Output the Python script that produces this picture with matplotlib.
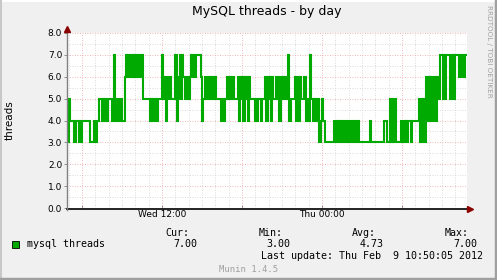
import matplotlib
matplotlib.use("Agg")
import matplotlib.pyplot as plt
import numpy as np
from matplotlib.lines import Line2D
from matplotlib.ticker import FixedLocator

# values, one digit per 5 min sample, oldest first
thread_pieces = [
    "435", "444", "33", "44", "3434", "444444", "333", "4", "33", "44",
    "55454", "5", "44", "555", "44", "74", "55", "44544", "6", "76",
    "7676767676767", "55555", "54545454", "555", "75", "65", "4", "656",
    "5555", "74", "657576", "565656", "76767777", "64", "55", "6565656565",
    "555", "5454", "55", "656566", "555", "646564656465", "555", "454", "55",
    "4", "555", "6465646", "55", "656", "44", "656565", "74", "5555", "64646",
    "555", "64", "454", "7", "5454545", "3", "45", "44", "3", "3333333",
    "43434343", "343434", "33", "43434", "3333333333", "4", "33333333333",
    "444", "33", "535", "3", "53", "3333", "4343434", "434", "44444",
    "535353", "6464646464", "66", "5", "7", "75757", "7", "757575", "77",
    "767676", "77",
]
threads = np.array([int(c) for c in "".join(thread_pieces)])

# hours counted from Wed 00:00
window_start = 4.875
window_end = 34.875
tick_hours = [6, 12, 18, 24, 30]
tick_labels = ["", "Wed 12:00", "", "Thu 00:00", ""]
y_ticks = list(range(9))

stat_names = ["Cur:", "Min:", "Avg:", "Max:"]
stat_values = ["7.00", "3.00", "4.73", "7.00"]
series_name = "mysql threads"
last_update = "Last update: Thu Feb  9 10:50:05 2012"

W, H = 497, 280
green = "#00AA00"
mono = "DejaVu Sans Mono"

fig = plt.figure(figsize=(W / 100, H / 100), dpi=100)
fig.patch.set_facecolor("#F0F0F0")


def px(x, y):
    return x / W, 1 - y / H


# plot area: x 67..467, y 33 (8.0) .. 208 (0.0)
ax = fig.add_axes([67 / W, 1 - 208 / H, 400 / W, 175 / H])
ax.set_facecolor("white")
ax.set_xlim(window_start, window_end)
ax.set_ylim(0, 8)

n = len(threads)
t = window_start + (np.arange(n) + 1) * (window_end - window_start) / n
ax.plot(t, threads, drawstyle="steps-pre", color=green, linewidth=1.5,
        solid_joinstyle="miter", zorder=3)

# grid, rrdtool style
for h in np.arange(5, 35):
    if h % 6:
        ax.axvline(h, color="#CFCFCF", lw=0.6, ls=(0, (1, 2)), zorder=1)
for v in np.arange(0.5, 8, 1.0):
    ax.axhline(v, color="#CFCFCF", lw=0.6, ls=(0, (1, 2)), zorder=1)
for h in tick_hours:
    ax.axvline(h, color="#E8A0A0", lw=0.6, ls=(0, (1, 2)), zorder=2)
for v in y_ticks[1:]:
    ax.axhline(v, color="#E8A0A0", lw=0.6, ls=(0, (1, 2)), zorder=2)

for s in ax.spines.values():
    s.set_visible(False)
ax.xaxis.set_major_locator(FixedLocator(tick_hours))
ax.set_xticklabels(tick_labels)
ax.yaxis.set_major_locator(FixedLocator(y_ticks))
ax.set_yticklabels(["%.1f" % v for v in y_ticks])
ax.tick_params(axis="both", labelsize=6.5, length=2, width=0.6,
               color="#808080", pad=1.5)
ax.tick_params(axis="x", direction="in", length=2)

# axis lines with arrows
fig.add_artist(Line2D([66.5 / W, 469 / W], [1 - 208.5 / H] * 2,
                      color="black", lw=1.2))
fig.add_artist(Line2D([66.5 / W] * 2, [1 - 210 / H, 1 - 30 / H],
                      color="#808080", lw=1.0))
fig.add_artist(Line2D([470 / W], [1 - 208.5 / H], marker=">", ms=4,
                      color="#8B0000", lw=0))
fig.add_artist(Line2D([66.5 / W], [1 - 29 / H], marker="^", ms=4,
                      color="#8B0000", lw=0))

# titles and side texts
fig.text(*px(267, 12), "MySQL threads - by day", ha="center", va="center",
         fontsize=9)
fig.text(*px(10, 120), "threads", ha="center", va="center", rotation=90,
         fontsize=7.5)
fig.text(*px(489, 5), "RRDTOOL / TOBI OETIKER", ha="center", va="top",
         rotation=270, fontsize=5.2, color="#A0A0A0")

# legend row
fig.add_artist(plt.Rectangle(px(12, 248), 7 / W, 7 / H, facecolor=green,
                             edgecolor="black", lw=0.6))
fig.text(*px(27, 244), series_name, ha="left", va="center", fontsize=7.2,
         family=mono)
for i, (name, val) in enumerate(zip(stat_names, stat_values)):
    right = 189 + i * 93.3
    fig.text(*px(right, 233), name, ha="right", va="center", fontsize=7.2,
             family=mono)
    fig.text(*px(right + 8, 244), val, ha="right", va="center",
             fontsize=7.2, family=mono)
fig.text(*px(483, 256), last_update, ha="right", va="center", fontsize=7.2,
         family=mono)
fig.text(*px(249, 269), "Munin 1.4.5", ha="center", va="center",
         fontsize=6.5, family=mono, color="#A0A0A0")

# 3d frame
fig.add_artist(Line2D([0, 1], [1 - 0.5 / H] * 2, color="white", lw=1.5))
fig.add_artist(Line2D([0.5 / W] * 2, [0, 1], color="#C8C8C8", lw=1.5))
fig.add_artist(Line2D([0, 1], [1 / H] * 2, color="#A0A0A0", lw=2.5))
fig.add_artist(Line2D([1 - 1 / W] * 2, [0, 1], color="#A0A0A0", lw=2.5))

fig.savefig("out.png", dpi=100, facecolor=fig.get_facecolor())
